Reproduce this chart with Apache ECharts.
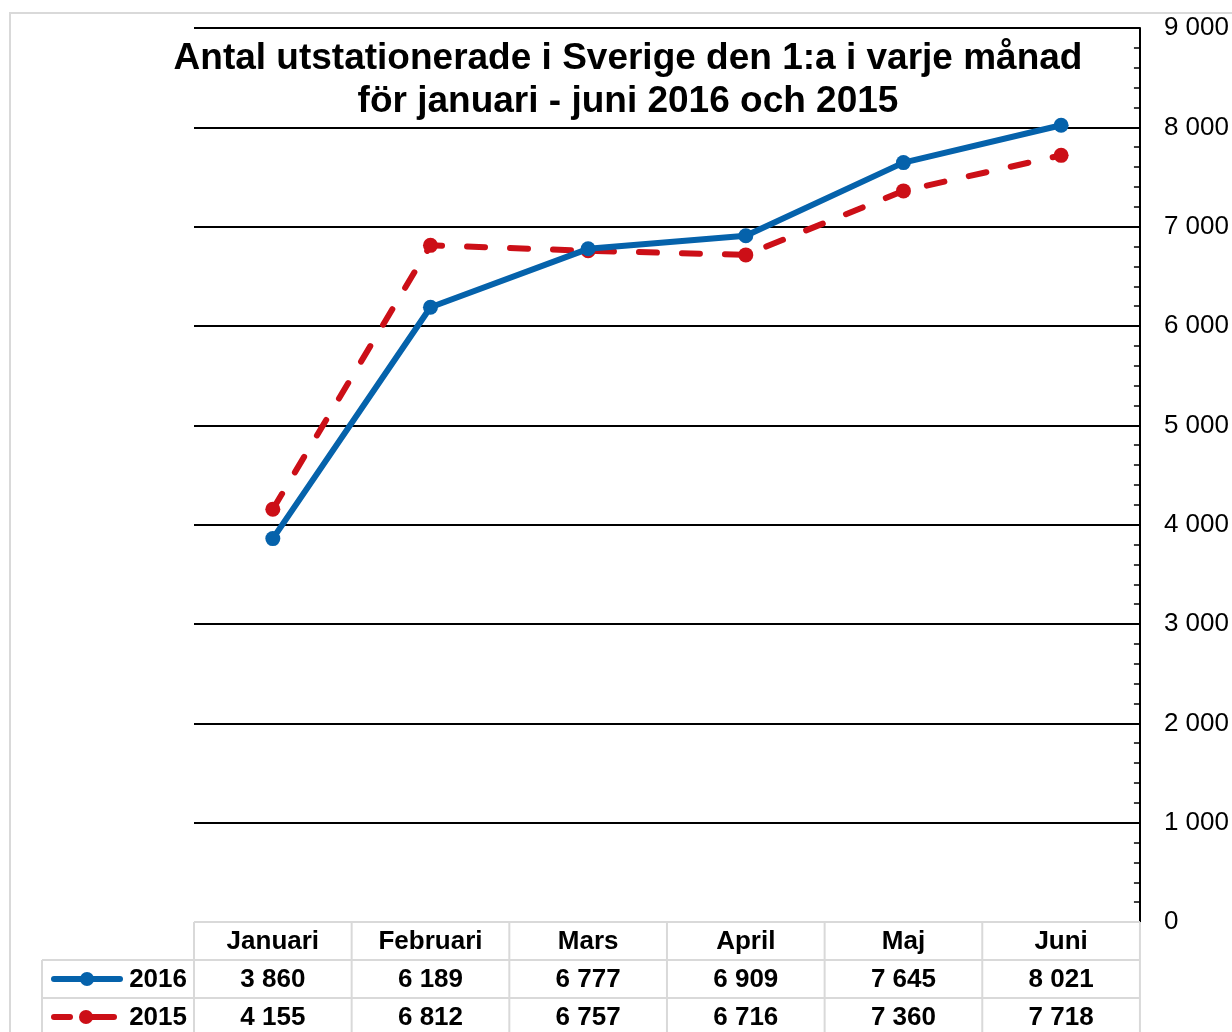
<!DOCTYPE html>
<html>
<head>
<meta charset="utf-8">
<script src="https://cdn.jsdelivr.net/npm/echarts@6/dist/echarts.min.js"></script>
<style>
html,body{margin:0;padding:0;background:#fff;}
#chart{width:1232px;height:1032px;}
</style>
</head>
<body>
<div id="chart"></div>
<script>
// kategorier och värden
const months = ['Januari', 'Februari', 'Mars', 'April', 'Maj', 'Juni'];
const values2016 = [3860, 6189, 6777, 6909, 7645, 8021];
const values2015 = [4155, 6812, 6757, 6716, 7360, 7718];
const seriesNames = ['2016', '2015'];
const yTicks = [0, 1000, 2000, 3000, 4000, 5000, 6000, 7000, 8000, 9000];

const BLUE = '#0562ab';
const RED = '#cc0f17';
const FONT = 'Liberation Sans, Arial, sans-serif';

function fmt(v) {
  return String(v).replace(/\B(?=(\d{3})+(?!\d))/g, ' ');
}

let chart = echarts.init(document.getElementById('chart'));

// splitLine vid 0 döljs, tabellens kant ligger där
let gridColors = yTicks.map((t, i) => i === 0 ? 'rgba(0,0,0,0)' : '#000');

let options = {
  animation: false,
  backgroundColor: '#fff',
  title: {
    text: 'Antal utstationerade i Sverige den 1:a i varje månad\nför januari - juni 2016 och 2015',
    left: 623,
    top: 32,
    textAlign: 'center',
    textStyle: {
      fontFamily: FONT,
      fontSize: 37,
      fontWeight: 'bold',
      color: '#000',
      lineHeight: 43
    }
  },
  grid: { left: 194, right: 91, top: 28, bottom: 110 },
  xAxis: {
    type: 'category',
    data: months,
    boundaryGap: true,
    axisLine: { show: false },
    axisTick: { show: false },
    axisLabel: { show: false },
    splitLine: { show: false }
  },
  yAxis: {
    type: 'value',
    position: 'right',
    min: 0,
    max: 9000,
    interval: 1000,
    axisLine: { show: true, lineStyle: { color: '#000', width: 2 } },
    axisTick: { show: true, inside: true, length: 6, lineStyle: { color: '#000', width: 2 } },
    minorTick: { show: true, splitNumber: 5, length: 6, lineStyle: { color: '#000', width: 1.5 } },
    axisLabel: {
      margin: 24,
      fontFamily: FONT,
      fontSize: 26,
      color: '#000',
      formatter: v => fmt(v)
    },
    splitLine: { show: true, lineStyle: { color: gridColors, width: 2 } }
  },
  series: [
    {
      name: seriesNames[0],
      type: 'line',
      data: values2016,
      symbol: 'circle',
      symbolSize: 15,
      z: 3,
      itemStyle: { color: BLUE },
      lineStyle: { color: BLUE, width: 6 }
    },
    {
      name: seriesNames[1],
      type: 'line',
      data: values2015,
      symbol: 'circle',
      symbolSize: 15,
      z: 2,
      itemStyle: { color: RED },
      lineStyle: { color: RED, width: 6, type: [18, 25], cap: 'round' }
    }
  ]
};
chart.setOption(options);

// datatabell under diagrammet
let centers = months.map(m => chart.convertToPixel({ xAxisIndex: 0 }, m));
let half = (centers[1] - centers[0]) / 2;
let edges = centers.map(c => c - half).concat([centers[centers.length - 1] + half]);
let y0 = chart.convertToPixel({ yAxisIndex: 0 }, 0);
let rowH = 38;
let rows = [y0, y0 + rowH, y0 + rowH * 2, y0 + rowH * 3];
let legendLeft = 42;
let GRAY = '#d9d9d9';
let els = [];

// ytterram
els.push({ type: 'rect', shape: { x: 10, y: 13, width: 1400, height: 1200 }, style: { fill: null, stroke: GRAY, lineWidth: 2 }, z: 0, silent: true });

function hline(x1, x2, y) {
  els.push({ type: 'line', shape: { x1: x1, y1: y, x2: x2, y2: y }, style: { stroke: GRAY, lineWidth: 2 }, z: 10 });
}
function vline(x, y1, y2) {
  els.push({ type: 'line', shape: { x1: x, y1: y1, x2: x, y2: y2 }, style: { stroke: GRAY, lineWidth: 2 }, z: 10 });
}
hline(edges[0], edges[edges.length - 1], rows[0]);
hline(legendLeft, edges[edges.length - 1], rows[1]);
hline(legendLeft, edges[edges.length - 1], rows[2]);
hline(legendLeft, edges[edges.length - 1], rows[3]);
edges.forEach(x => vline(x, rows[0], rows[3]));
vline(legendLeft, rows[1], rows[3]);

function cellText(x, y, txt, align) {
  els.push({
    type: 'text', x: x, y: y, z: 11,
    style: { text: txt, align: align || 'center', verticalAlign: 'middle', fontFamily: FONT, fontSize: 26, fontWeight: 'bold', fill: '#000' }
  });
}
months.forEach((m, i) => cellText(centers[i], rows[0] + rowH / 2 + 1, m));
values2016.forEach((v, i) => cellText(centers[i], rows[1] + rowH / 2 + 1, fmt(v)));
values2015.forEach((v, i) => cellText(centers[i], rows[2] + rowH / 2 + 1, fmt(v)));

// förklaringar
let blueKey = rows[1] + rowH / 2;
els.push({ type: 'line', shape: { x1: 54, y1: blueKey, x2: 120, y2: blueKey }, style: { stroke: BLUE, lineWidth: 6, lineCap: 'round' }, z: 11 });
els.push({ type: 'circle', shape: { cx: 87, cy: blueKey, r: 7 }, style: { fill: BLUE }, z: 12 });
cellText(edges[0] - 7, blueKey + 1, seriesNames[0], 'right');

let redKey = rows[2] + rowH / 2;
els.push({ type: 'line', shape: { x1: 54, y1: redKey, x2: 70, y2: redKey }, style: { stroke: RED, lineWidth: 6, lineCap: 'round' }, z: 11 });
els.push({ type: 'line', shape: { x1: 90, y1: redKey, x2: 114, y2: redKey }, style: { stroke: RED, lineWidth: 6, lineCap: 'round' }, z: 11 });
els.push({ type: 'circle', shape: { cx: 86, cy: redKey, r: 7 }, style: { fill: RED }, z: 12 });
cellText(edges[0] - 7, redKey + 1, seriesNames[1], 'right');

chart.setOption({ graphic: els });
</script>
</body>
</html>
